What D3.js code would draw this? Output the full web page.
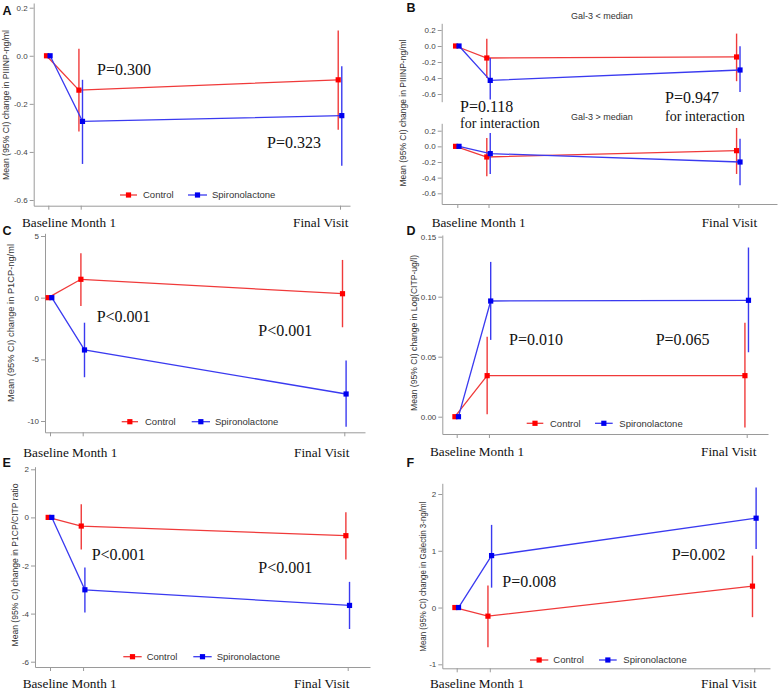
<!DOCTYPE html>
<html>
<head>
<meta charset="utf-8">
<script src="https://cdn.jsdelivr.net/npm/d3@7/dist/d3.min.js"></script>
<style>
  html, body { margin: 0; padding: 0; background: #fff; }
  svg { display: block; }
</style>
</head>
<body>
<svg id="chart" width="780" height="694"></svg>
<script>
// ---------------- DATA ----------------
const visits = ["Baseline", "Month 1", "Final Visit"];
const visitMonth = [0, 1, 9];
const groups = ["Control", "Spironolactone"];

// each row: [mean, lower 95% CI, upper 95% CI] at Baseline, Month 1, Final Visit
const aControl = [[0, 0, 0], [-0.143, -0.315, 0.029], [-0.100, -0.308, 0.105]];
const aSpiro   = [[0, 0, 0], [-0.273, -0.450, -0.100], [-0.249, -0.457, -0.044]];

const bLowControl = [[0, 0, 0], [-0.150, -0.400, 0.090], [-0.137, -0.440, 0.155]];
const bLowSpiro   = [[0, 0, 0], [-0.430, -0.670, -0.150], [-0.300, -0.575, -0.004]];
const bHighControl = [[0, 0, 0], [-0.136, -0.383, 0.107], [-0.055, -0.353, 0.235]];
const bHighSpiro   = [[0, 0, 0], [-0.093, -0.353, 0.170], [-0.200, -0.498, 0.098]];

const cControl = [[0, 0, 0], [1.49, -0.67, 3.60], [0.32, -2.40, 3.06]];
const cSpiro   = [[0, 0, 0], [-4.24, -6.45, -2.03], [-7.81, -10.46, -5.10]];

const dControl = [[0, 0, 0], [0.0342, 0.0020, 0.0667], [0.0342, -0.0090, 0.0783]];
const dSpiro   = [[0, 0, 0], [0.0964, 0.0640, 0.1290], [0.0970, 0.0537, 0.1410]];

const eControl = [[0, 0, 0], [-0.36, -1.33, 0.55], [-0.76, -1.75, 0.21]];
const eSpiro   = [[0, 0, 0], [-3.01, -3.95, -2.08], [-3.66, -4.64, -2.68]];

const fControl = [[0, 0, 0], [-0.152, -0.700, 0.390], [0.377, -0.170, 0.915]];
const fSpiro   = [[0, 0, 0], [0.915, 0.350, 1.456], [1.574, 1.030, 2.113]];

const ticksA = [0.2, 0.0, -0.2, -0.4, -0.6];
const tickLabelsA = ["0.2", "0.0", "-0.2", "-0.4", "-0.6"];
const ticksB = [0.2, 0.0, -0.2, -0.4, -0.6];
const tickLabelsB = ["0.2", "0.0", "-0.2", "-0.4", "-0.6"];
const ticksC = [5, 0, -5, -10];
const tickLabelsC = ["5", "0", "-5", "-10"];
const ticksD = [0.15, 0.10, 0.05, 0.00];
const tickLabelsD = ["0.15", "0.10", "0.05", "0.00"];
const ticksE = [2, 0, -2, -4, -6];
const tickLabelsE = ["2", "0", "-2", "-4", "-6"];
const ticksF = [2, 1, 0, -1];
const tickLabelsF = ["2", "1", "0", "-1"];

const yTitles = {
  A: "Mean (95% CI) change in PIIINP-ng/ml",
  B: "Mean (95% CI) change in PIIINP-ng/ml",
  C: "Mean (95% CI) change in P1CP-ng/ml",
  D: "Mean (95% CI) change in Log(CITP-ug/l)",
  E: "Mean (95% CI) change in P1CP/CITP ratio",
  F: "Mean (95% CI) change in Galectin 3-ng/ml"
};
const pLabelsA = ["P=0.300", "P=0.323"];
const pLabelsB = ["P=0.118", "P=0.947"];
const interactionLabel = "for interaction";
const pLabelsC = ["P<0.001", "P<0.001"];
const pLabelsD = ["P=0.010", "P=0.065"];
const pLabelsE = ["P<0.001", "P<0.001"];
const pLabelsF = ["P=0.008", "P=0.002"];
const subTitlesB = ["Gal-3 < median", "Gal-3 > median"];

// ---------------- STYLE / LAYOUT ----------------
const RED_LINE = "#f03a3a", RED_PT = "#ff0000";
const BLUE_LINE = "#3a3af0", BLUE_PT = "#0000f0";
const AXIS_COL = "#9a9a9a", TICK_TXT = "#444";
const SANS = "'Liberation Sans', Arial, sans-serif";
const SERIF = "'Liberation Serif', 'Times New Roman', serif";
const DODGE = 0.055;

const svg = d3.select("#chart");

function buildScales(L) {
  const kx = (L.xFinal - L.xBase) / 9;
  const x = d3.scaleLinear()
    .domain([(L.axisX - L.xBase) / kx, (L.xEnd - L.xBase) / kx])
    .range([L.axisX, L.xEnd]);
  const ky = (L.tp[1] - L.tp[0]) / (L.tv[1] - L.tv[0]);
  const v = px => L.tv[0] + (px - L.tp[0]) / ky;
  const y = d3.scaleLinear().domain([v(L.yBot), v(L.yTop)]).range([L.yBot, L.yTop]);
  return { x, y };
}

function drawAxes(g, s, L, ticks, labels, withX) {
  const ya = d3.axisLeft(s.y).tickValues(ticks)
    .tickFormat((d, i) => labels[i]).tickSize(4).tickSizeOuter(0).tickPadding(2);
  const yg = g.append("g").attr("transform", `translate(${L.axisX},0)`).call(ya);
  yg.selectAll("path,line").attr("stroke", AXIS_COL);
  yg.selectAll("text").attr("fill", TICK_TXT).style("font-family", SANS).style("font-size", "8px");
  if (withX) {
    const xa = d3.axisBottom(s.x).tickValues(visitMonth).tickFormat("").tickSize(4).tickSizeOuter(0);
    const xg = g.append("g").attr("transform", `translate(0,${L.yBot})`).call(xa);
    xg.selectAll("path,line").attr("stroke", AXIS_COL);
  }
}

function drawSeries(g, s, data, dodge, lineCol, ptCol) {
  const pts = data.map((d, i) => ({ t: visitMonth[i] + dodge, m: d[0], lo: d[1], hi: d[2] }));
  g.append("path").datum(pts)
    .attr("d", d3.line().x(d => s.x(d.t)).y(d => s.y(d.m)))
    .attr("fill", "none").attr("stroke", lineCol).attr("stroke-width", 1.3);
  g.selectAll(null).data(pts.filter(d => d.lo !== d.hi)).enter().append("line")
    .attr("x1", d => s.x(d.t)).attr("x2", d => s.x(d.t))
    .attr("y1", d => s.y(d.lo)).attr("y2", d => s.y(d.hi))
    .attr("stroke", lineCol).attr("stroke-width", 1.4);
  g.selectAll(null).data(pts).enter().append("rect")
    .attr("x", d => s.x(d.t) - 2.6).attr("y", d => s.y(d.m) - 2.6)
    .attr("width", 5.2).attr("height", 5.2).attr("fill", ptCol);
}

function drawLegend(g, lx, ly) {
  const items = [
    { name: groups[0], line: RED_LINE, pt: RED_PT, x0: lx[0], x1: lx[1], tx: lx[2] },
    { name: groups[1], line: BLUE_LINE, pt: BLUE_PT, x0: lx[3], x1: lx[4], tx: lx[5] }
  ];
  items.forEach(it => {
    g.append("line").attr("x1", it.x0).attr("x2", it.x1).attr("y1", ly).attr("y2", ly)
      .attr("stroke", it.line).attr("stroke-width", 1.3);
    const cx = (it.x0 + it.x1) / 2;
    g.append("rect").attr("x", cx - 2.6).attr("y", ly - 2.6).attr("width", 5.2).attr("height", 5.2).attr("fill", it.pt);
    g.append("text").attr("x", it.tx).attr("y", ly).attr("dy", "0.35em")
      .style("font-family", SANS).style("font-size", "9.5px").attr("fill", "#333").text(it.name);
  });
}

function serifText(g, x, y, txt, size, anchor) {
  return g.append("text").attr("x", x).attr("y", y).attr("text-anchor", anchor || "start")
    .style("font-family", SERIF).style("font-size", size + "px").attr("fill", "#111").text(txt);
}

function panelLetter(x, y, t) {
  svg.append("text").attr("x", x).attr("y", y).style("font-family", SANS)
    .style("font-size", "12.5px").style("font-weight", "bold").attr("fill", "#111").text(t);
}

function yTitle(cx, cy, t, len) {
  svg.append("text").attr("transform", `translate(${cx},${cy}) rotate(-90)`)
    .attr("text-anchor", "middle").attr("dy", "0.35em")
    .style("font-family", SANS).style("font-size", "8.5px").attr("fill", "#333")
    .attr("textLength", len).attr("lengthAdjust", "spacingAndGlyphs").text(t);
}

function visitLabels(g, x0, xFinal, y) {
  serifText(g, x0, y, visits[0] + " " + visits[1], 13.5).attr("textLength", 94).attr("lengthAdjust", "spacingAndGlyphs");
  serifText(g, xFinal, y, visits[2], 13.5).attr("textLength", 55.5).attr("lengthAdjust", "spacingAndGlyphs");
}

function standardPanel(L, ticks, labels, ctrl, spiro) {
  const g = svg.append("g");
  const s = buildScales(L);
  drawAxes(g, s, L, ticks, labels, true);
  drawSeries(g, s, ctrl, -DODGE, RED_LINE, RED_PT);
  drawSeries(g, s, spiro, DODGE, BLUE_LINE, BLUE_PT);
  return { g, s };
}

// ---------------- PANEL A ----------------
{
  const L = { axisX: 33.7, xEnd: 350, xBase: 48.3, xFinal: 340, tv: [0.2, -0.6], tp: [7.7, 200], yTop: 3, yBot: 205.7 };
  const { g } = standardPanel(L, ticksA, tickLabelsA, aControl, aSpiro);
  serifText(g, 97, 75, pLabelsA[0], 16);
  serifText(g, 267, 148, pLabelsA[1], 16);
  drawLegend(g, [120, 137, 143, 188, 207, 212], 195);
  visitLabels(g, 22, 293, 227);
  panelLetter(2.5, 15, "A");
  yTitle(6, 105, yTitles.A, 150);
}

// ---------------- PANEL B ----------------
{
  const g = svg.append("g");
  const Ltop = { axisX: 441.7, xEnd: 777, xBase: 457.3, xFinal: 738.3, tv: [0.2, -0.6], tp: [30, 94], yTop: 23.3, yBot: 101.7 };
  const Lbot = { axisX: 441.7, xEnd: 777, xBase: 457.3, xFinal: 738.3, tv: [0.2, -0.6], tp: [130.7, 193.3], yTop: 123.3, yBot: 204 };
  const st = buildScales(Ltop);
  drawAxes(g, st, Ltop, ticksB, tickLabelsB, false);
  drawSeries(g, st, bLowControl, -DODGE, RED_LINE, RED_PT);
  drawSeries(g, st, bLowSpiro, DODGE, BLUE_LINE, BLUE_PT);
  const sb = buildScales(Lbot);
  drawAxes(g, sb, Lbot, ticksB, tickLabelsB, true);
  drawSeries(g, sb, bHighControl, -DODGE, RED_LINE, RED_PT);
  drawSeries(g, sb, bHighSpiro, DODGE, BLUE_LINE, BLUE_PT);
  g.append("text").attr("x", 602).attr("y", 18.5).attr("text-anchor", "middle")
    .style("font-family", SANS).style("font-size", "9px").attr("fill", "#333").text(subTitlesB[0]);
  g.append("text").attr("x", 602).attr("y", 120).attr("text-anchor", "middle")
    .style("font-family", SANS).style("font-size", "9px").attr("fill", "#333").text(subTitlesB[1]);
  serifText(g, 460, 111.7, pLabelsB[0], 16);
  serifText(g, 460, 128, interactionLabel, 14);
  serifText(g, 665, 103.3, pLabelsB[1], 16);
  serifText(g, 665, 120.7, interactionLabel, 14);
  visitLabels(g, 431.7, 701.7, 226.7);
  panelLetter(406.5, 12, "B");
  yTitle(403, 113, yTitles.B, 147);
}

// ---------------- PANEL C ----------------
{
  const L = { axisX: 45, xEnd: 365, xBase: 50, xFinal: 344.3, tv: [5, -10], tp: [236, 421], yTop: 233.3, yBot: 432.3 };
  const { g } = standardPanel(L, ticksC, tickLabelsC, cControl, cSpiro);
  serifText(g, 96.7, 321.7, pLabelsC[0], 16);
  serifText(g, 258.3, 336, pLabelsC[1], 16);
  drawLegend(g, [121.7, 138, 145, 191.7, 210, 215], 421.7);
  visitLabels(g, 23.3, 294, 456.7);
  panelLetter(2.5, 235, "C");
  yTitle(10.7, 323, yTitles.C, 158);
}

// ---------------- PANEL D ----------------
{
  const L = { axisX: 442.3, xEnd: 768, xBase: 456.7, xFinal: 746.7, tv: [0.15, 0], tp: [236.7, 416.7], yTop: 235, yBot: 434 };
  const { g } = standardPanel(L, ticksD, tickLabelsD, dControl, dSpiro);
  serifText(g, 509, 345, pLabelsD[0], 16);
  serifText(g, 655.7, 345, pLabelsD[1], 16);
  drawLegend(g, [526.7, 543.3, 550, 595, 612.7, 619.3], 423.3);
  visitLabels(g, 430, 701, 455.7);
  panelLetter(406.5, 235, "D");
  yTitle(414, 333, yTitles.D, 156);
}

// ---------------- PANEL E ----------------
{
  const L = { axisX: 35, xEnd: 370, xBase: 50, xFinal: 347.7, tv: [2, -6], tp: [469.3, 661.7], yTop: 466.7, yBot: 667 };
  const { g } = standardPanel(L, ticksE, tickLabelsE, eControl, eSpiro);
  serifText(g, 91.7, 560, pLabelsE[0], 16);
  serifText(g, 258.3, 573.3, pLabelsE[1], 16);
  drawLegend(g, [123.3, 141.7, 146.7, 193.3, 211.7, 216.7], 656.7);
  visitLabels(g, 22.7, 294, 687.7);
  panelLetter(2.5, 466.5, "E");
  yTitle(15, 565, yTitles.E, 163);
}

// ---------------- PANEL F ----------------
{
  const L = { axisX: 442.3, xEnd: 770, xBase: 456.7, xFinal: 754.3, tv: [2, -1], tp: [494, 664.3], yTop: 483.3, yBot: 668.3 };
  const { g } = standardPanel(L, ticksF, tickLabelsF, fControl, fSpiro);
  serifText(g, 502.3, 587.3, pLabelsF[0], 16);
  serifText(g, 671.7, 560, pLabelsF[1], 16);
  drawLegend(g, [530, 548.3, 553.3, 599, 616.7, 623.3], 660);
  visitLabels(g, 430, 701, 688.3);
  panelLetter(406.5, 466.5, "F");
  yTitle(423.3, 576.7, yTitles.F, 150);
}
</script>
</body>
</html>
